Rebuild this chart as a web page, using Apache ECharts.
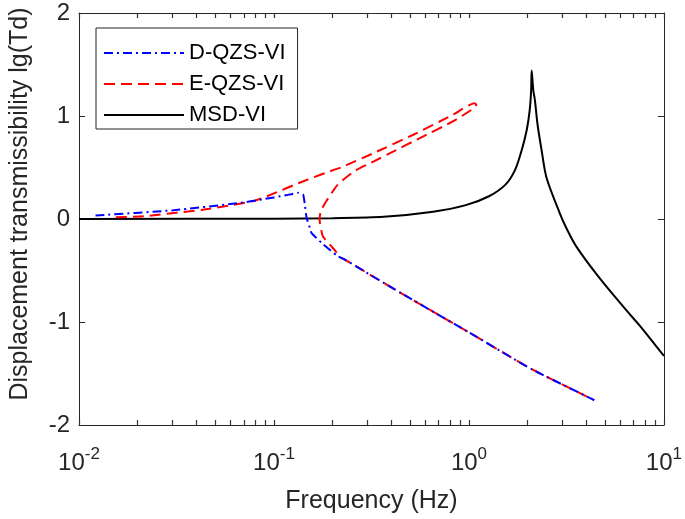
<!DOCTYPE html>
<html>
<head>
<meta charset="utf-8">
<script src="https://cdn.jsdelivr.net/npm/echarts@6/dist/echarts.min.js"></script>
<style>html,body{margin:0;padding:0;background:#fff}#c{width:685px;height:519px}</style>
</head>
<body>
<div id="c"></div>
<script>
// ---- data (frequency Hz, lg(Td)) ----
var dqzsFreq = [0.01215, 0.0305, 0.0662, 0.0869, 0.115, 0.133, 0.141, 0.144, 0.147, 0.1527, 0.1556, 0.175, 0.212, 0.2296, 0.444, 1.003, 2.097, 4.39];
var dqzsVal  = [0.034, 0.085, 0.155, 0.19, 0.23, 0.254, 0.237, 0.14, 0.012, -0.085, -0.134, -0.230, -0.360, -0.392, -0.715, -1.102, -1.458, -1.758];

var eqzsFreq = [0.01545, 0.0215, 0.0467, 0.0804, 0.1015, 0.128, 0.1496, 0.204, 0.2208, 0.3254, 0.5185, 0.826, 1.064, 1.092, 1.064, 0.826, 0.5607, 0.4107, 0.3254, 0.2577, 0.2123, 0.1854, 0.1734, 0.1714, 0.178, 0.200, 0.221, 0.2296, 0.444, 1.003, 2.097, 4.39];
var eqzsVal  = [0.017, 0.027, 0.099, 0.179, 0.254, 0.334, 0.385, 0.479, 0.50, 0.641, 0.818, 1.012, 1.125, 1.11, 1.077, 0.947, 0.786, 0.657, 0.560, 0.463, 0.334, 0.172, 0.073, -0.005, -0.167, -0.279, -0.376, -0.392, -0.715, -1.102, -1.458, -1.758];

var msdFreq = [0.01, 0.1, 0.2, 0.3656, 0.655, 0.964, 1.267, 1.539, 1.727, 1.867, 1.98, 2.05, 2.085, 2.097, 2.137, 2.178, 2.249, 2.356, 2.50, 2.917, 3.153, 3.542, 4.647, 6.341, 7.55, 10];
var msdVal  = [0, 0.003, 0.008, 0.021, 0.07, 0.135, 0.221, 0.334, 0.48, 0.673, 0.867, 1.06, 1.254, 1.441, 1.254, 1.157, 0.915, 0.673, 0.40, 0.060, -0.085, -0.263, -0.567, -0.875, -1.04, -1.33];

var seriesNames = ['D-QZS-VI', 'E-QZS-VI', 'MSD-VI'];
var xLabelVals = [0.01, 0.1, 1, 10];
var xTickVals = [0.01,0.02,0.03,0.04,0.05,0.06,0.07,0.08,0.09,0.1,0.2,0.3,0.4,0.5,0.6,0.7,0.8,0.9,1,2,3,4,5,6,7,8,9,10];

function pairs(xs, ys){ return xs.map(function(x,i){ return [x, ys[i]]; }); }

var axisColor = '#262626';
var font = 'Liberation Sans, Arial, Helvetica, sans-serif';

var chart = echarts.init(document.getElementById('c'), null, {renderer:'canvas'});
chart.setOption({
  animation: false,
  backgroundColor: '#fff',
  textStyle: {fontFamily: font},
  grid: {left: 71, right: 21, top: 13, bottom: 93, containLabel: false},
  legend: {
    orient: 'vertical', left: 96, top: 28,
    padding: [14, 12, 3, 7], itemGap: 9,
    itemWidth: 80, itemHeight: 14,
    backgroundColor: '#fff', borderColor: axisColor, borderWidth: 1,
    itemStyle: {opacity: 0},
    textStyle: {fontSize: 22, color: '#000', fontFamily: font},
    data: seriesNames
  },
  xAxis: [{
    type: 'log', logBase: 10, min: 0.01, max: 10,
    name: 'Frequency (Hz)', nameLocation: 'middle', nameGap: 64,
    nameTextStyle: {fontSize: 25, color: axisColor, fontFamily: font},
    axisLine: {show: true, onZero: false, lineStyle: {color: axisColor, width: 1}},
    axisTick: {show: true, inside: true, length: 5, customValues: xTickVals, lineStyle: {color: '#333', width: 1.2}},
    splitLine: {show: false},
    axisLabel: {
      margin: 21, color: axisColor, customValues: xLabelVals,
      formatter: function(v){ var e = Math.round(Math.log10(v)); return '{b|10}{s|' + e + '}'; },
      rich: {
        b: {fontSize: 24, color: axisColor, fontFamily: font},
        s: {fontSize: 17, color: axisColor, fontFamily: font, padding: [0,0,18,0]}
      }
    }
  }, {
    type: 'log', logBase: 10, min: 0.01, max: 10, position: 'top',
    axisLine: {show: true, onZero: false, lineStyle: {color: axisColor, width: 1}},
    axisTick: {show: true, inside: true, length: 5, customValues: xTickVals, lineStyle: {color: '#333', width: 1.2}},
    axisLabel: {show: false}, splitLine: {show: false}
  }],
  yAxis: [{
    type: 'value', min: -2, max: 2, interval: 1,
    name: 'Displacement transmissibility lg(Td)', nameLocation: 'middle', nameGap: 46,
    nameTextStyle: {fontSize: 25, color: axisColor, fontFamily: font, padding: [0,0,0,30]},
    axisLine: {show: true, onZero: false, lineStyle: {color: axisColor, width: 1}},
    axisTick: {show: true, inside: true, length: 6, lineStyle: {color: axisColor}},
    splitLine: {show: false},
    axisLabel: {fontSize: 24, color: axisColor, margin: 9, fontFamily: font}
  }, {
    type: 'value', min: -2, max: 2, interval: 1, position: 'right',
    axisLine: {show: true, onZero: false, lineStyle: {color: axisColor, width: 1}},
    axisTick: {show: true, inside: true, length: 6, lineStyle: {color: axisColor}},
    axisLabel: {show: false}, splitLine: {show: false}
  }],
  series: [{
    name: seriesNames[0], type: 'line', data: pairs(dqzsFreq, dqzsVal),
    symbol: 'none', smooth: 0.15, z: 4,
    lineStyle: {color: '#0000ff', width: 2, type: [9, 4, 2, 4]},
    itemStyle: {color: '#0000ff'}
  }, {
    name: seriesNames[1], type: 'line', data: pairs(eqzsFreq, eqzsVal),
    symbol: 'none', smooth: 0.15, z: 3,
    lineStyle: {color: '#ff0000', width: 2, type: [11, 6]},
    itemStyle: {color: '#ff0000'}
  }, {
    name: seriesNames[2], type: 'line', data: pairs(msdFreq, msdVal),
    symbol: 'none', smooth: 0.3, z: 2,
    lineStyle: {color: '#000000', width: 2, type: 'solid'},
    itemStyle: {color: '#000000'}
  }]
});
</script>
</body>
</html>
